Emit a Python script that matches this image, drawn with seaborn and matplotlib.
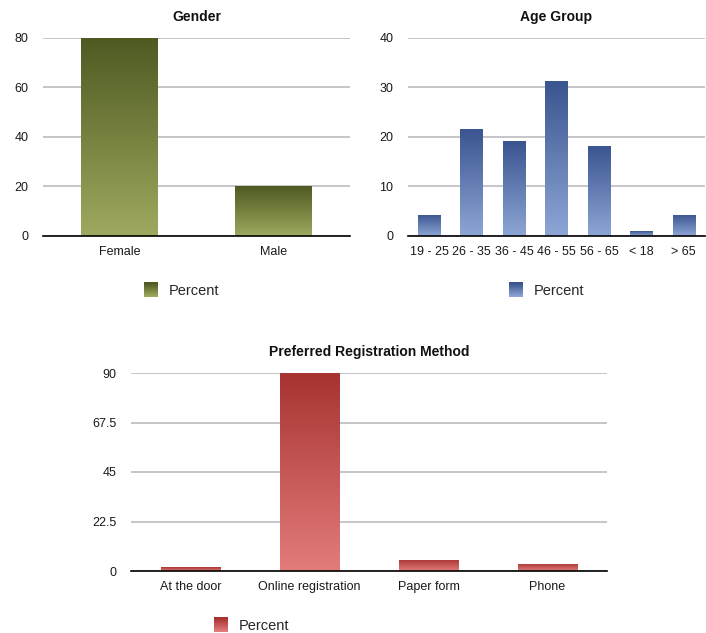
import numpy as np
import pandas as pd
import matplotlib
matplotlib.use("Agg")
import matplotlib.pyplot as plt
import matplotlib.colors as mcolors
from matplotlib.patches import Rectangle
from matplotlib.legend_handler import HandlerBase
import seaborn as sns

# ---- data ----
gender_labels = ["Female", "Male"]
gender_pct = [80.0, 20.0]

age_labels = ["19 - 25", "26 - 35", "36 - 45", "46 - 55", "56 - 65", "< 18", "> 65"]
age_pct = [4.3, 21.7, 19.1, 31.4, 18.2, 1.0, 4.3]

reg_labels = ["At the door", "Online registration", "Paper form", "Phone"]
reg_pct = [1.7, 90.0, 5.2, 3.2]

sns.set_theme(style="white")
plt.rcParams["font.family"] = ["Liberation Sans", "DejaVu Sans"]

OLIVE = ("#4e5a22", "#9fa95f")
BLUE = ("#39548f", "#8ea6d6")
RED = ("#a73331", "#e27c7b")

fig = plt.figure(figsize=(7.06, 6.33), dpi=100)

W, H = 706.0, 633.0


def axes_px(left, top, right, bottom):
    return fig.add_axes([left / W, 1 - bottom / H, (right - left) / W, (bottom - top) / H])


def gradient_cmap(colors):
    return mcolors.LinearSegmentedColormap.from_list("g", [colors[1], colors[0]])


def paint_gradient(ax, colors):
    cmap = gradient_cmap(colors)
    grad = np.linspace(0, 1, 256).reshape(-1, 1)
    for p in list(ax.patches):
        x0, y0 = p.get_x(), p.get_y()
        w, h = p.get_width(), p.get_height()
        p.set_facecolor(colors[1])
        p.set_edgecolor("none")
        im = ax.imshow(grad, cmap=cmap, origin="lower", aspect="auto",
                       extent=[x0, x0 + w, y0, y0 + h], zorder=p.get_zorder() + 0.1,
                       interpolation="bilinear")
        im.set_clip_path(p)


class GradientHandler(HandlerBase):
    def __init__(self, colors):
        super().__init__()
        self.colors = colors

    def create_artists(self, legend, orig_handle, xdescent, ydescent, width, height, fontsize, trans):
        cmap = gradient_cmap(self.colors)
        n = 14
        side = height * 1.45
        x = -xdescent + (width - side) / 2
        y0 = -ydescent + (height - side) / 2
        arts = []
        for i in range(n):
            r = Rectangle((x, y0 + side * i / n), side * 0.95, side / n + 0.3,
                          facecolor=cmap(i / (n - 1)), edgecolor="none", transform=trans)
            arts.append(r)
        return arts


def style_axes(ax, title, ymax, yticks, yticklabels, colors, legend_xy):
    ax.set_ylim(0, ymax)
    ax.set_yticks(yticks)
    ax.set_yticklabels(yticklabels)
    ax.set_xlabel("")
    ax.set_ylabel("")
    ax.set_title(title, fontsize=10, fontweight="bold", pad=12, color="#111111")
    ax.yaxis.grid(True, color="#c2c2c6", linewidth=1.3)
    ax.set_axisbelow(True)
    for s in ["top", "right", "left"]:
        ax.spines[s].set_visible(False)
    ax.spines["bottom"].set_color("black")
    ax.spines["bottom"].set_linewidth(1.2)
    ax.spines["bottom"].set_zorder(5)
    ax.tick_params(axis="both", length=0, labelsize=9, colors="#1a1a1a")
    ax.tick_params(axis="y", pad=10.5)
    ax.tick_params(axis="x", pad=7.5)
    handle = Rectangle((0, 0), 1, 1)
    ax.legend([handle], ["Percent"], handler_map={Rectangle: GradientHandler(colors)},
              loc="center", bbox_to_anchor=(legend_xy[0] / W, 1 - legend_xy[1] / H),
              bbox_transform=fig.transFigure, frameon=False, fontsize=10.5,
              handlelength=1.2, handletextpad=0.6)


# Gender
ax1 = axes_px(43, 38, 350, 236)
df1 = pd.DataFrame({"Category": gender_labels, "Percent": gender_pct})
sns.barplot(data=df1, x="Category", y="Percent", ax=ax1, width=0.5, color=OLIVE[1])
paint_gradient(ax1, OLIVE)
ax1.set_xlim(-0.5, len(gender_labels) - 0.5)
style_axes(ax1, "Gender", 80, [0, 20, 40, 60, 80], ["0", "20", "40", "60", "80"], OLIVE, (181, 291))

# Age group
ax2 = axes_px(408, 38, 705, 236)
df2 = pd.DataFrame({"Category": age_labels, "Percent": age_pct})
sns.barplot(data=df2, x="Category", y="Percent", ax=ax2, width=0.53, color=BLUE[1])
paint_gradient(ax2, BLUE)
ax2.set_xlim(-0.5, len(age_labels) - 0.5)
style_axes(ax2, "Age Group", 40, [0, 10, 20, 30, 40], ["0", "10", "20", "30", "40"], BLUE, (546, 291))

# Preferred registration method
ax3 = axes_px(131, 373, 607, 571)
df3 = pd.DataFrame({"Category": reg_labels, "Percent": reg_pct})
sns.barplot(data=df3, x="Category", y="Percent", ax=ax3, width=0.5, color=RED[1])
paint_gradient(ax3, RED)
ax3.set_xlim(-0.5, len(reg_labels) - 0.5)
style_axes(ax3, "Preferred Registration Method", 90, [0, 22.5, 45, 67.5, 90],
           ["0", "22.5", "45", "67.5", "90"], RED, (251, 626))

fig.savefig("out.png", dpi=100)
